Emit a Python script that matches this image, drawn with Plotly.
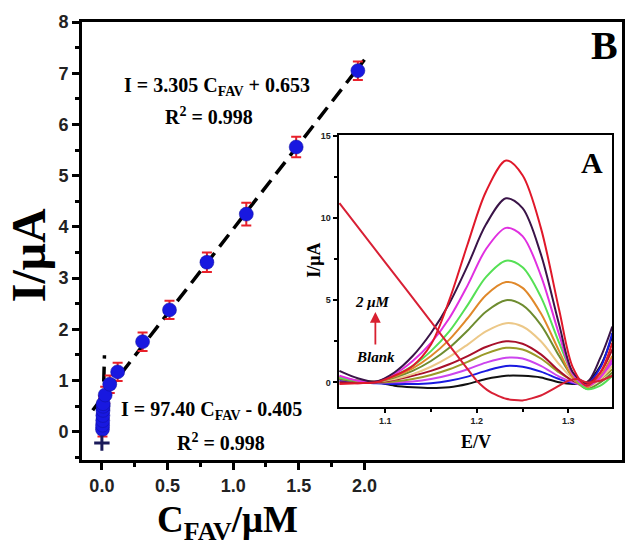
import plotly.graph_objects as go

# ---------------- main calibration data ----------------
conc_uM = [0.0045, 0.0055, 0.0065, 0.0075, 0.0085, 0.0095, 0.01, 0.025, 0.06, 0.12,
           0.31, 0.515, 0.80, 1.10, 1.48, 1.95]
current_uA = [0.05, 0.13, 0.22, 0.32, 0.42, 0.50, 0.55, 0.72, 0.93, 1.17,
              1.76, 2.38, 3.31, 4.25, 5.56, 7.05]
current_err = [0.14, 0.14, 0.15, 0.15, 0.15, 0.15, 0.15, 0.16, 0.17, 0.18,
               0.18, 0.18, 0.19, 0.22, 0.20, 0.18]
blank_x = [0.0]
blank_y = [-0.22]

fit_high = {"slope": 3.305, "intercept": 0.653, "x": [-0.07, 2.0]}
fit_low = {"slope": 97.40, "intercept": -0.405, "x": [0.005, 0.0195]}

x_tick_vals = [0.0, 0.5, 1.0, 1.5, 2.0]
x_tick_text = ["0.0", "0.5", "1.0", "1.5", "2.0"]
y_tick_vals = [0, 1, 2, 3, 4, 5, 6, 7, 8]

# ---------------- inset DPV data ----------------
E_V = [1.05, 1.07, 1.09, 1.11, 1.13, 1.15, 1.17, 1.19, 1.21, 1.232, 1.25, 1.27,
       1.29, 1.305, 1.32, 1.335, 1.348]
dpv_black = [0.2, 0.05, 0.0, -0.2, -0.3, -0.35, -0.3, -0.1, 0.2, 0.4, 0.4, 0.3, 0.0, -0.1, 0.0, 1.0, 2.8]
dpv_blue = [0.1, 0.0, -0.05, -0.1, -0.1, -0.05, 0.1, 0.35, 0.7, 1.0, 0.95, 0.65, 0.2, -0.05, -0.1, 0.9, 3.0]
dpv_violet = [0.2, 0.05, 0.0, 0.0, 0.05, 0.2, 0.45, 0.8, 1.2, 1.5, 1.45, 1.0, 0.35, 0.0, -0.2, 0.3, 1.2]
dpv_olive = [0.3, 0.1, 0.0, 0.05, 0.2, 0.45, 0.8, 1.25, 1.75, 2.1, 2.0, 1.45, 0.6, 0.1, -0.2, 0.2, 0.8]
dpv_darkred = [0.0, -0.05, 0.0, 0.15, 0.4, 0.7, 1.1, 1.6, 2.15, 2.5, 2.35, 1.7, 0.7, 0.1, -0.1, 0.6, 2.0]
dpv_tan = [0.3, 0.1, 0.05, 0.2, 0.5, 0.95, 1.55, 2.3, 3.1, 3.6, 3.4, 2.5, 1.1, 0.2, -0.3, 0.2, 1.0]
dpv_olivegreen = [0.2, 0.05, 0.05, 0.3, 0.7, 1.3, 2.1, 3.15, 4.3, 5.0, 4.7, 3.5, 1.6, 0.3, -0.4, 0.0, 0.6]
dpv_orange = [0.3, 0.1, 0.05, 0.35, 0.85, 1.6, 2.6, 3.9, 5.3, 6.1, 5.75, 4.2, 1.9, 0.3, -0.3, 0.4, 1.6]
dpv_lightgreen = [0.3, 0.1, 0.05, 0.4, 1.0, 1.9, 3.1, 4.7, 6.4, 7.4, 7.0, 5.2, 2.4, 0.5, -0.4, -0.2, 0.4]
dpv_magenta = [0.4, 0.1, 0.05, 0.5, 1.3, 2.4, 3.9, 5.9, 8.1, 9.4, 8.9, 6.5, 2.9, 0.5, -0.2, 0.3, 1.4]
dpv_purple = [0.7, 0.25, 0.05, 0.6, 1.6, 3.0, 4.8, 7.1, 9.6, 11.2, 10.6, 7.8, 3.5, 0.6, 0.0, 1.5, 3.4]
dpv_red = [-0.1, -0.05, 0.0, 0.4, 1.0, 2.3, 5.0, 8.4, 11.6, 13.5, 12.6, 9.4, 4.4, 0.9, -0.2, 0.6, 2.4]

E_line = [1.05, 1.10, 1.15, 1.19, 1.20, 1.215, 1.232, 1.25, 1.27, 1.29, 1.30, 1.31, 1.32, 1.335, 1.348]
dpv_redline = [10.9, 7.3, 3.7, 0.8, 0.1, -0.6, -1.0, -1.1, -0.8, -0.2, 0.1, 0.2, 0.0, 0.1, 0.4]

dpv_series = [
    (dpv_black, "#111111"), (dpv_blue, "#1a1ae0"), (dpv_violet, "#cc44ee"),
    (dpv_olive, "#9a9a28"), (dpv_darkred, "#a8102a"), (dpv_tan, "#ecc888"),
    (dpv_olivegreen, "#6e8c30"), (dpv_orange, "#e0882a"), (dpv_lightgreen, "#55e055"),
    (dpv_magenta, "#e030e0"), (dpv_purple, "#3a1448"), (dpv_red, "#e0182a"),
]

SERIF = "Liberation Serif"
SANS = "Liberation Sans"

fig = go.Figure()

# fit lines
for fit in (fit_high, fit_low):
    fig.add_trace(go.Scatter(
        x=fit["x"], y=[fit["slope"] * v + fit["intercept"] for v in fit["x"]],
        mode="lines", line=dict(color="black", width=3.5, dash="15px,8px"),
        xaxis="x", yaxis="y", showlegend=False, hoverinfo="skip"))

# data points
fig.add_trace(go.Scatter(
    x=conc_uM, y=current_uA, mode="markers",
    marker=dict(color="#1818e0", size=14, line=dict(color="#10109a", width=0.5)),
    error_y=dict(type="data", array=current_err, color="#e8202a", thickness=2, width=5),
    xaxis="x", yaxis="y", showlegend=False))
fig.add_trace(go.Scatter(
    x=blank_x, y=blank_y, mode="markers",
    marker=dict(symbol="cross-thin", size=11, line=dict(color="#1a1a5a", width=3)),
    xaxis="x", yaxis="y", showlegend=False))

# inset curves
for vals, col in dpv_series:
    fig.add_trace(go.Scatter(x=E_V, y=vals, mode="lines",
                             line=dict(color=col, width=2, shape="spline", smoothing=0.9),
                             xaxis="x2", yaxis="y2", showlegend=False))
fig.add_trace(go.Scatter(x=E_line, y=dpv_redline, mode="lines",
                         line=dict(color="#d82035", width=2, shape="spline", smoothing=0.6),
                         xaxis="x2", yaxis="y2", showlegend=False))

axis_common = dict(showline=True, linecolor="black", mirror=True, showgrid=False,
                   zeroline=False, ticks="outside", tickcolor="black")

fig.update_layout(
    width=626, height=541,
    margin=dict(l=82, r=1, t=22, b=81),
    paper_bgcolor="white", plot_bgcolor="white",
    xaxis=dict(**axis_common, domain=[0, 1], range=[-0.1515, 3.962], linewidth=3,
               ticklen=7, tickwidth=3, tickvals=x_tick_vals, ticktext=x_tick_text,
               tickfont=dict(family=SANS, size=18, color="#222", weight="bold"),
               minor=dict(tickvals=[0.25, 0.75, 1.25, 1.75], ticklen=4, tickwidth=3,
                          ticks="outside", tickcolor="black")),
    yaxis=dict(**axis_common, domain=[0, 1], range=[-0.55, 8.0], linewidth=3,
               ticklen=7, tickwidth=3, tickvals=y_tick_vals,
               tickfont=dict(family=SANS, size=18, color="#222", weight="bold"),
               minor=dict(dtick=0.5, ticklen=4, tickwidth=3, ticks="outside",
                          tickcolor="black")),
    xaxis2=dict(**axis_common, domain=[0.475, 0.982], anchor="y2", range=[1.049, 1.348],
                linewidth=2, ticklen=4, tickwidth=1.5, tickvals=[1.1, 1.2, 1.3],
                tickfont=dict(family=SANS, size=9, color="#222", weight="bold"),
                minor=dict(tickvals=[1.15, 1.25], ticklen=3, tickwidth=1.5,
                           ticks="outside", tickcolor="black")),
    yaxis2=dict(**axis_common, domain=[0.121, 0.742], anchor="x2", range=[-1.5, 15.05],
                linewidth=2, ticklen=4, tickwidth=1.5, tickvals=[0, 5, 10, 15],
                tickfont=dict(family=SANS, size=9, color="#222", weight="bold"),
                minor=dict(dtick=2.5, ticklen=3, tickwidth=1.5, ticks="outside",
                           tickcolor="black")),
)


def to_paper(xp, yp):
    return (xp - 82) / 543, (460 - yp) / 438


def atxt(xp, yp, s, size, angle=0, italic=False, color="black", yanchor="middle"):
    x, y = to_paper(xp, yp)
    fig.add_annotation(x=x, y=y, xref="paper", yref="paper", text=s,
                       showarrow=False, textangle=angle, xanchor="center", yanchor=yanchor,
                       borderpad=0,
                       font=dict(family=SERIF, size=size, color=color, weight="bold",
                                 style="italic" if italic else "normal"))


atxt(218, 87, "I = 3.305 C<sub>FAV</sub> + 0.653", 20)
atxt(210, 116, "R<sup>2</sup> = 0.998", 20)
atxt(212, 410, "I = 97.40 C<sub>FAV</sub> - 0.405", 20)
atxt(222, 442, "R<sup>2</sup> = 0.998", 20)
atxt(607, 45, "B", 40)
atxt(28, 255, "I/μA", 48, angle=-90)
atxt(228, 498, "C<sub>FAV</sub>/μM", 37, yanchor="top")

# inset labels
atxt(595, 162, "A", 30)
atxt(315, 260, "I/μA", 18, angle=-90)
atxt(478, 442, "E/V", 18)
atxt(374, 302, "2 μM", 15, italic=True)
atxt(377, 357, "Blank", 15, italic=True)
x1, y1 = to_paper(377, 312)
fig.add_annotation(x=x1, y=y1, ax=0, ay=34, xref="paper", yref="paper",
                   axref="pixel", ayref="pixel", showarrow=True, arrowhead=2,
                   arrowsize=1.2, arrowwidth=1.8, arrowcolor="#d82030", text="")

fig.write_html("out.html", config={"displayModeBar": False},
               post_script="document.body.style.margin='0';")
